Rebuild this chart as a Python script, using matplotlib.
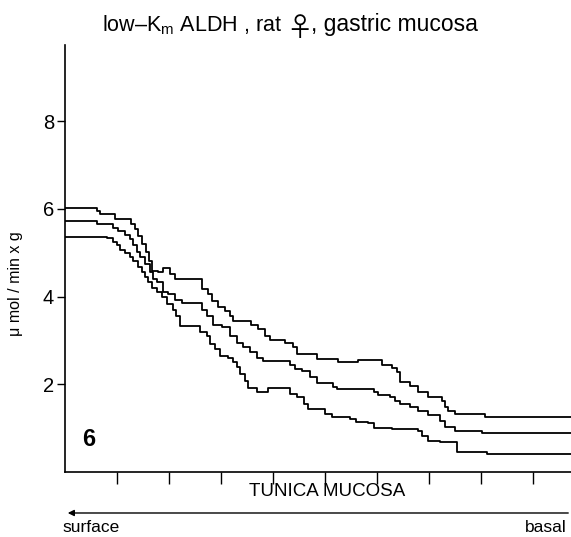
import matplotlib
matplotlib.use('Agg')
import matplotlib.pyplot as plt

plt.rcParams['font.family'] = ['Liberation Sans', 'DejaVu Sans']
plt.rcParams['mathtext.fontset'] = 'custom'
plt.rcParams['mathtext.rm'] = 'Liberation Sans'
plt.rcParams['mathtext.it'] = 'Liberation Sans'

# step profiles (x = position along mucosa in tick units, y = activity)
top_x = [0.00, 0.615, 0.673, 0.962, 1.269, 1.346, 1.404, 1.481, 1.558, 1.615, 1.673, 1.788,
         1.885, 2.019, 2.115, 2.635, 2.750, 2.827, 2.942, 3.077, 3.173, 3.231, 3.577, 3.712,
         3.846, 3.942, 4.231, 4.385, 4.462, 4.846, 5.250, 5.635, 6.096, 6.288, 6.385, 6.442,
         6.635, 6.788, 6.981, 7.250, 7.308, 7.365, 7.500, 8.077, 9.73]
top_y = [6.02, 5.95, 5.89, 5.77, 5.66, 5.55, 5.39, 5.20, 5.02, 4.80, 4.59, 4.57,
         4.64, 4.52, 4.41, 4.16, 4.05, 3.89, 3.77, 3.66, 3.55, 3.45, 3.36, 3.25,
         3.09, 3.00, 2.95, 2.86, 2.68, 2.57, 2.50, 2.55, 2.45, 2.36, 2.27, 2.05,
         1.95, 1.82, 1.70, 1.61, 1.48, 1.39, 1.32, 1.25, 1.25]

mid_x = [0.00, 0.615, 0.923, 1.019, 1.154, 1.250, 1.308, 1.385, 1.442, 1.538, 1.635, 1.692,
         1.769, 1.885, 1.981, 2.115, 2.250, 2.635, 2.731, 2.846, 3.019, 3.173, 3.308, 3.423,
         3.558, 3.692, 3.808, 4.327, 4.423, 4.558, 4.712, 4.846, 5.154, 5.231, 5.942, 6.019,
         6.250, 6.346, 6.442, 6.635, 6.788, 6.981, 7.212, 7.308, 7.500, 8.019, 9.73]
mid_y = [5.73, 5.66, 5.57, 5.50, 5.41, 5.30, 5.18, 5.02, 4.91, 4.73, 4.55, 4.39,
         4.32, 4.11, 4.05, 3.93, 3.86, 3.70, 3.55, 3.36, 3.30, 3.09, 2.95, 2.86,
         2.73, 2.61, 2.52, 2.45, 2.34, 2.30, 2.16, 2.02, 1.93, 1.89, 1.82, 1.75,
         1.70, 1.61, 1.55, 1.48, 1.39, 1.30, 1.16, 1.02, 0.93, 0.89, 0.89]

low_x = [0.00, 0.808, 0.923, 1.000, 1.058, 1.154, 1.250, 1.308, 1.404, 1.481, 1.538, 1.596,
         1.673, 1.769, 1.865, 1.962, 2.077, 2.135, 2.212, 2.596, 2.731, 2.788, 2.885, 2.981,
         3.135, 3.231, 3.308, 3.365, 3.462, 3.519, 3.692, 3.904, 4.327, 4.462, 4.596, 4.673,
         5.000, 5.135, 5.481, 5.596, 5.827, 5.942, 6.288, 6.788, 6.865, 6.981, 7.212, 7.538,
         8.115, 9.73]
low_y = [5.36, 5.34, 5.25, 5.18, 5.07, 5.00, 4.89, 4.80, 4.68, 4.57, 4.45, 4.32,
         4.20, 4.11, 3.98, 3.82, 3.70, 3.55, 3.32, 3.20, 3.09, 2.91, 2.80, 2.64,
         2.61, 2.50, 2.39, 2.23, 2.07, 1.91, 1.82, 1.91, 1.77, 1.70, 1.55, 1.43,
         1.32, 1.25, 1.20, 1.14, 1.11, 1.00, 0.98, 0.93, 0.82, 0.70, 0.68, 0.45,
         0.41, 0.41]

y_ticks = [2, 4, 6, 8]
x_ticks = [1, 2, 3, 4, 5, 6, 7, 8, 9]

fig = plt.figure(figsize=(5.71, 5.37), dpi=100)
ax = fig.add_axes([0.1138, 0.121, 0.8862, 0.795])

for xs, ys in [(top_x, top_y), (mid_x, mid_y), (low_x, low_y)]:
    ax.step(xs, ys, where='post', color='black', linewidth=1.3)

ax.set_xlim(0, 9.73)
ax.set_ylim(0, 9.73)
ax.spines['top'].set_visible(False)
ax.spines['right'].set_visible(False)
ax.spines['left'].set_linewidth(1.2)
ax.spines['bottom'].set_linewidth(1.2)

ax.set_xticks(x_ticks)
ax.set_xticklabels([])
ax.tick_params(axis='x', direction='out', length=8.5, width=1.0)
ax.set_yticks(y_ticks)
ax.set_yticklabels([str(t) for t in y_ticks])
ax.tick_params(axis='y', direction='out', length=5.8, width=1.0, pad=2, labelsize=14.5)

ax.text(0.33, 0.75, '6', fontsize=17, fontweight='bold', ha='left', va='center')

# title in three pieces so the female sign can be drawn at its larger, thin form
fig.text(0.179, 0.942, 'low\u2013K$_\\mathrm{m}$ ALDH , rat', ha='left', va='baseline',
         fontsize=15.5)
fig.text(0.525, 0.947, '\u2640', ha='center', va='center', fontsize=19,
         family=['Noto Sans CJK JP', 'DejaVu Sans'])
fig.text(0.545, 0.942, ', gastric mucosa', ha='left', va='baseline', fontsize=16.5)

fig.text(0.028, 0.471, '\u03bc mol / min x g', rotation=90, ha='center', va='center',
         fontsize=11.5)
fig.text(0.573, 0.0838, 'TUNICA MUCOSA', ha='center', va='center', fontsize=13.5)
fig.text(0.11, 0.0168, 'surface', ha='left', va='center', fontsize=12.5)
fig.text(0.993, 0.0168, 'basal', ha='right', va='center', fontsize=12.5)

fig.add_artist(matplotlib.patches.FancyArrowPatch(
    (1.0, 0.0447), (0.1138, 0.0447), transform=fig.transFigure,
    arrowstyle='-|>', mutation_scale=9, color='black', linewidth=1.0))

fig.savefig('out.png', dpi=100)
